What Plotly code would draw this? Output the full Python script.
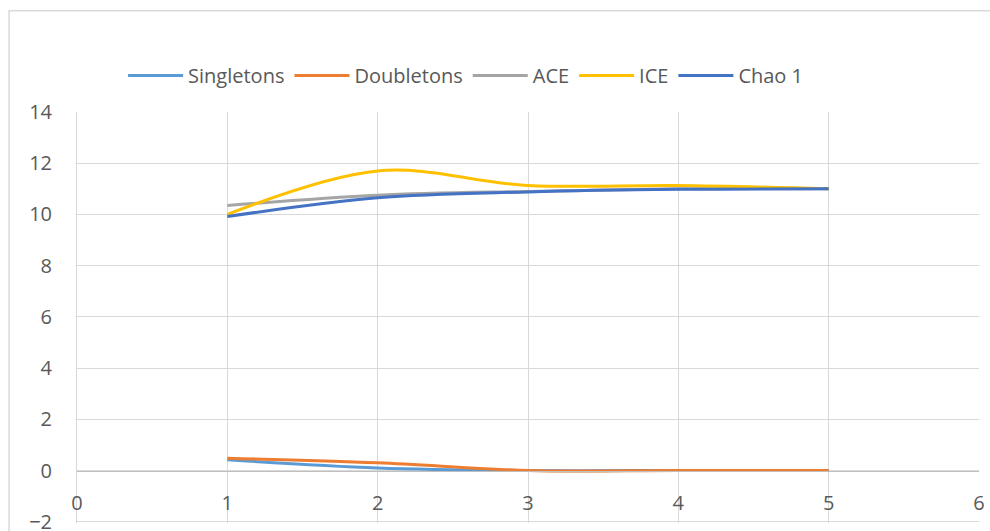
import plotly.graph_objects as go

x_vals = [1, 2, 3, 4, 5]
singletons = [0.42, 0.1, 0.0, 0.0, 0.0]
doubletons = [0.48, 0.3, 0.0, 0.0, 0.0]
ace = [10.35, 10.75, 10.9, 11.0, 11.0]
ice = [10.0, 11.7, 11.13, 11.13, 11.0]
chao1 = [9.92, 10.65, 10.88, 10.98, 11.0]

series = [
    ("Singletons", singletons, "#5B9BD5"),
    ("Doubletons", doubletons, "#ED7D31"),
    ("ACE", ace, "#A5A5A5"),
    ("ICE", ice, "#FFC000"),
    ("Chao 1", chao1, "#4472C4"),
]

W, H = 990, 531
L, T = 76.5, 111.5
R = W - 979.5
B = 7.9
pw, ph = W - L - R, H - T - B
ymin = -2.05

fig = go.Figure()
for name, vals, col in series:
    fig.add_trace(go.Scatter(
        x=x_vals, y=vals, name=name, mode="lines",
        line=dict(color=col, width=3, shape="spline", smoothing=1.0),
    ))

font = dict(family="Open Sans, Liberation Sans, sans-serif", size=20, color="#595959")

fig.update_layout(
    width=W, height=H,
    margin=dict(l=L, r=R, t=T, b=B, pad=0, autoexpand=False),
    paper_bgcolor="white", plot_bgcolor="white",
    font=font,
    showlegend=True,
    legend=dict(orientation="h", x=(465.5 - L) / pw, xanchor="center",
                y=1 + (T - 75) / ph, yanchor="middle",
                font=font, itemwidth=55, bgcolor="rgba(0,0,0,0)"),
    xaxis=dict(range=[0, 6], tickmode="linear", tick0=0, dtick=1,
               showgrid=True, gridcolor="#D9D9D9", gridwidth=1,
               zeroline=False, showline=True, linecolor="#BFBFBF", linewidth=1,
               anchor="free", position=(0 - ymin) / (14 - ymin), ticks="",
               ticklabelstandoff=14,
               tickfont=font, ticklabeloverflow="allow", automargin=False),
    yaxis=dict(range=[ymin, 14], tickmode="linear", tick0=-2, dtick=2,
               showgrid=True, gridcolor="#D9D9D9", gridwidth=1,
               zeroline=False, showline=True, linecolor="#D9D9D9", linewidth=1,
               ticks="", ticklabelstandoff=20, tickfont=font,
               ticklabeloverflow="allow", automargin=False),
)

fig.add_shape(type="rect", xref="paper", yref="paper",
              x0=(8.5 - L) / pw, x1=(W + 20 - L) / pw,
              y0=-(B + 20) / ph, y1=1 + (T - 10) / ph,
              line=dict(color="#D9D9D9", width=1.5), fillcolor="rgba(0,0,0,0)",
              layer="below")

fig.write_html(
    "out.html",
    config={"displayModeBar": False},
    post_script=(
        "document.body.style.margin='0';"
        "document.documentElement.style.overflow='hidden';"
        "document.body.style.overflow='hidden';"
    ),
)
